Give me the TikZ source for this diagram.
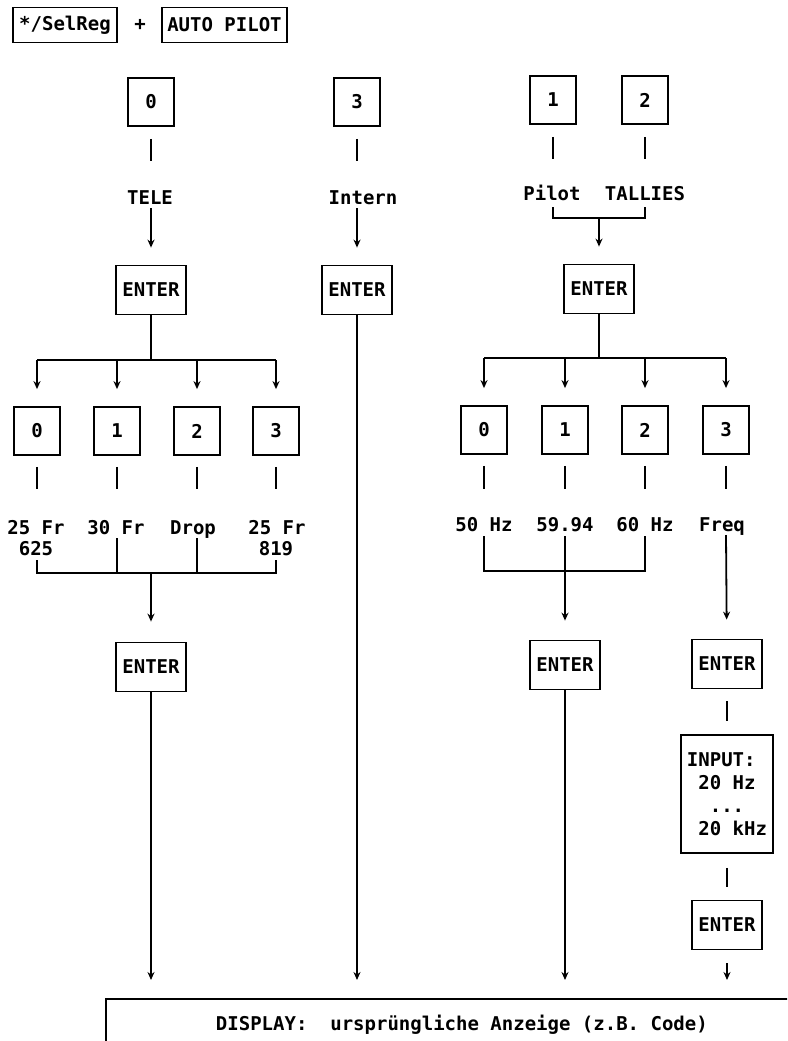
\documentclass[tikz,border=0pt]{standalone}
\usepackage{fontspec}
\setmonofont{DejaVu Sans Mono}
\usetikzlibrary{arrows.meta,calc}
\begin{document}
\begin{tikzpicture}[x=1pt,y=-1pt,
  font=\ttfamily\bfseries\fontsize{19}{23}\selectfont,
  box/.style={draw, line width=1.8pt, inner sep=0pt},
  keybox/.style={box, minimum width=46pt, minimum height=48pt},
  enterbox/.style={box, minimum width=70pt, minimum height=49pt},
  lbl/.style={inner sep=0pt, anchor=base},
  ln/.style={line width=1.8pt},
  arr/.style={ln, -{Stealth[length=8pt,width=7pt]}},
]
\clip (0,0) rectangle (787,1041);
\fill[white] (0,0) rectangle (787,1041);

% header
\node[box, minimum width=104pt, minimum height=35pt] (sel) at (65,25) {*/SelReg};
\node[inner sep=0pt] (plus) at (140,25) {+};
\node[box, minimum width=125pt, minimum height=35pt] (auto) at (224.5,25) {AUTO PILOT};

% top keys
\node[keybox] (k0) at (151,102) {0};
\node[keybox] (k3) at (357,102) {3};
\node[keybox] (k1) at (553,100) {1};
\node[keybox] (k2) at (645,100) {2};

% top labels
\node[lbl] (tele) at (150,204) {TELE};
\node[lbl] (intern) at (363,204) {Intern};
\node[lbl] (pilot) at (552,200) {Pilot};
\node[lbl] (tallies) at (645,200) {TALLIES};

\draw[ln, shorten <=12pt] (k0.south) -- ($(tele.base -| k0)+(0,-43)$);
\draw[ln, shorten <=12pt] (k3.south) -- ($(intern.base -| k3)+(0,-43)$);
\draw[ln, shorten <=12pt] (k1.south) -- ($(pilot.base -| k1)+(0,-41)$);
\draw[ln, shorten <=12pt] (k2.south) -- ($(tallies.base -| k2)+(0,-41)$);

% first ENTERs
\node[enterbox] (e1) at (151,290) {ENTER};
\node[enterbox] (e2) at (357,290) {ENTER};
\node[enterbox] (e3) at (599,289) {ENTER};

\draw[arr, shorten >=17pt] ($(tele.base -| e1)+(0,4)$) -- (e1);
\draw[arr, shorten >=17pt] ($(intern.base -| e2)+(0,4)$) -- (e2);
\coordinate (pj) at (599,218);
\draw[ln] ($(pilot.base -| k1)+(0,7)$) |- (pj) -| ($(tallies.base -| k2)+(0,7)$);
\draw[arr, shorten >=17pt] (pj) -- (e3);

% second-row keys
\node[keybox] (a0) at (37,431) {0};
\node[keybox] (a1) at (117,431) {1};
\node[keybox] (a2) at (197,431) {2};
\node[keybox] (a3) at (276,431) {3};
\node[keybox] (b0) at (484,430) {0};
\node[keybox] (b1) at (565,430) {1};
\node[keybox] (b2) at (645,430) {2};
\node[keybox] (b3) at (726,430) {3};

% forks
\coordinate (f1) at (151,360);
\draw[ln] (e1) -- (f1);
\draw[ln] (a0 |- f1) -- (a3 |- f1);
\foreach \k in {a0,a1,a2,a3} \draw[arr, shorten >=17pt] (\k |- f1) -- (\k);
\coordinate (f2) at (599,358);
\draw[ln] (e3) -- (f2);
\draw[ln] (b0 |- f2) -- (b3 |- f2);
\foreach \k in {b0,b1,b2,b3} \draw[arr, shorten >=17pt] (\k |- f2) -- (\k);

% second-row labels
\node[lbl] (l0) at (36,534) {25 Fr};
\node[lbl] (l0b) at (36,555) {625};
\node[lbl] (l1) at (116,534) {30 Fr};
\node[lbl] (l2) at (193,534) {Drop};
\node[lbl] (l3) at (277,534) {25 Fr};
\node[lbl] (l3b) at (276,555) {819};
\node[lbl] (m0) at (484,531) {50 Hz};
\node[lbl] (m1) at (565,531) {59.94};
\node[lbl] (m2) at (645,531) {60 Hz};
\node[lbl] (m3) at (722,531) {Freq};

\foreach \k/\l in {a0/l0,a1/l1,a2/l2,a3/l3}
  \draw[ln, shorten <=11pt] (\k.south) -- ($(\l.base -| \k)+(0,-45)$);
\foreach \k/\l in {b0/m0,b1/m1,b2/m2,b3/m3}
  \draw[ln, shorten <=11pt] (\k.south) -- ($(\l.base -| \k)+(0,-42)$);

% second ENTERs
\node[enterbox] (e4) at (151,667) {ENTER};
\node[enterbox] (e5) at (565,665) {ENTER};
\node[enterbox] (e6) at (727,664) {ENTER};

% left bracket
\coordinate (g1) at (151,573);
\draw[ln] ($(l0b.base -| a0)+(0,5)$) -- (a0 |- g1) -- (a3 |- g1) -- ($(l3b.base -| a3)+(0,5)$);
\draw[ln] ($(l1.base -| a1)+(0,4)$) -- (a1 |- g1);
\draw[ln] ($(l2.base -| a2)+(0,4)$) -- (a2 |- g1);
\draw[arr, shorten >=20pt] (g1) -- (e4);

% right bracket
\coordinate (g2) at (565,571);
\draw[ln] ($(m0.base -| b0)+(0,5)$) -- (b0 |- g2) -- (b2 |- g2) -- ($(m2.base -| b2)+(0,5)$);
\draw[arr, shorten >=19pt] ($(m1.base -| b1)+(0,5)$) -- (e5);
\draw[arr, shorten >=19pt] ($(m3.base -| b3)+(0,4)$) -- (e6);

% INPUT and last ENTER
\node[box, minimum width=92pt, minimum height=118pt, align=left] (inp) at (727,794)
  {INPUT:\\\ 20 Hz\\\ \ ...\\\ 20 kHz};
\node[enterbox] (e7) at (727,925) {ENTER};
\draw[ln, shorten <=12pt, shorten >=13pt] (e6) -- (inp);
\draw[ln, shorten <=14pt, shorten >=13pt] (inp) -- (e7);

% display
\node[box, minimum width=712pt, minimum height=52pt, anchor=north west] (disp) at (105,998)
  {DISPLAY:\ \ ursprüngliche Anzeige (z.B. Code)};

\draw[arr, shorten >=18pt] (e4) -- (e4 |- disp.north);
\draw[arr, shorten >=18pt] (e2) -- (e2 |- disp.north);
\draw[arr, shorten >=18pt] (e5) -- (e5 |- disp.north);
\draw[arr, shorten <=13pt, shorten >=18pt] (e7) -- (e7 |- disp.north);
\end{tikzpicture}
\end{document}
